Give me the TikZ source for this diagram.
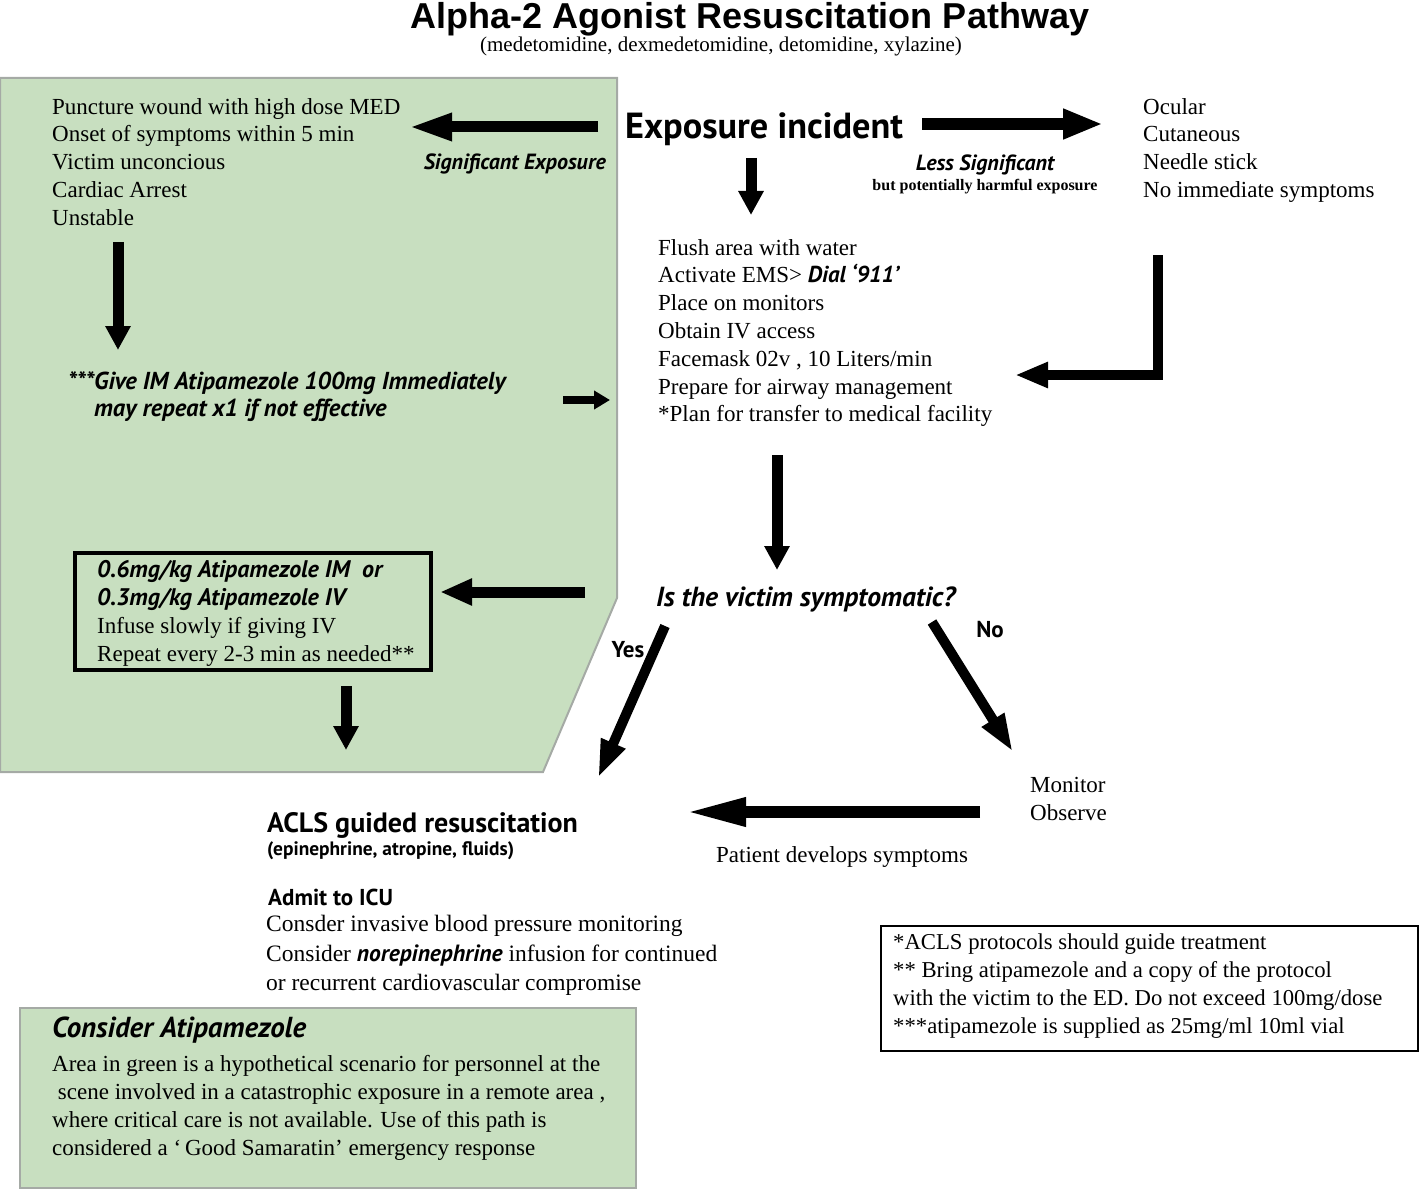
\documentclass[tikz,border=0pt]{standalone}
\usepackage{fontspec}
\setmainfont{Liberation Serif}
\setsansfont{PT Sans}
\newfontfamily\titlefont{Liberation Sans}
\usetikzlibrary{arrows.meta}
\usetikzlibrary{positioning}
\definecolor{greenbg}{RGB}{200,223,192}
\definecolor{edgegray}{RGB}{165,170,165}
\newcommand\fsz[2]{\fontsize{#1}{#2}\selectfont}
\tikzset{
    bodytext/.style = {inner sep=0pt, anchor=north west, align=left, font=\fsz{23}{27.8}},
    headtext/.style = {inner sep=0pt, anchor=west, font=\sffamily\bfseries\fsz{24}{28}},
    cuetext/.style  = {inner sep=0pt, font=\sffamily\bfseries\itshape\fsz{22}{27}},
    bigarrow/.style  = {line width=11pt, -{Triangle[length=44pt,width=25pt]}},
    longarrow/.style = {line width=12pt, -{Triangle[length=40pt,width=28pt]}},
    widearrow/.style = {line width=12pt, -{Triangle[length=62pt,width=26pt]}},
    midarrow/.style  = {line width=11pt, line join=miter, -{Triangle[length=24pt,width=24pt]}},
    bendarrow/.style = {line width=10pt, line join=miter, -{Triangle[length=33pt,width=24pt]}},
    thinarrow/.style = {line width=10pt, -{Triangle[length=38pt,width=24pt]}},
    tinyarrow/.style = {line width=8pt, -{Triangle[length=16pt,width=18pt]}},
}
\begin{document}
\begin{tikzpicture}[x=1pt,y=-1pt]
\useasboundingbox (0,0) rectangle (1420,1190);
% green areas
\fill[greenbg, draw=edgegray, line width=2pt] (0,78) -- (617,78) -- (617,598) -- (543,772) -- (0,772) -- cycle;
\fill[greenbg, draw=edgegray, line width=1.5pt] (20,1008) rectangle (636,1188);
% framed boxes
\draw[line width=4pt] (75,553) rectangle (431,670);
\draw[line width=2.5pt] (881,926) rectangle (1418,1051);
%
\node[inner sep=0pt, font=\titlefont\bfseries\fsz{36}{40}] (title) at (750,19) {Alpha-2 Agonist Resuscitation Pathway};
\node[inner sep=0pt, font=\fsz{21}{24}] (drugs) at (721,46) {(medetomidine, dexmedetomidine, detomidine, xylazine)};
%
\node[headtext, font=\sffamily\bfseries\fsz{36.3}{40}] (expo) at (625,129) {Exposure incident};
\node[cuetext, anchor=east] (sig) at (606,164) {Significant Exposure};
\node[cuetext] (less) at (985,165) {Less Significant};
\node[inner sep=0pt, font=\bfseries\fsz{16}{18}] (harm) at (985,187) {but potentially harmful exposure};
%
\node[bodytext] (severe) at (52,98) {Puncture wound with high dose MED\\Onset of symptoms within 5 min\\Victim unconcious\\Cardiac Arrest\\Unstable};
\node[bodytext] (mild) at (1143,98) {Ocular\\Cutaneous\\Needle stick\\No immediate symptoms};
\node[bodytext] (care) at (658,239) {Flush area with water\\Activate EMS> \textsf{\bfseries\itshape Dial `911'}\\Place on monitors\\Obtain IV access\\Facemask 02v , 10 Liters/min\\Prepare for airway management\\{}*Plan for transfer to medical facility};
\node[cuetext, anchor=north west, align=left, font=\sffamily\bfseries\itshape\fsz{24.5}{27}] (giveim) at (68,371) {***Give IM Atipamezole 100mg Immediately\\\hspace*{26pt}may repeat x1 if not effective};
%
\node[cuetext, anchor=west, font=\sffamily\bfseries\itshape\fsz{27.6}{30}] (quest) at (656,599) {Is the victim symptomatic?};
\node[bodytext, font=\fsz{23}{28.2}] (dose) at (97,560) {\textsf{\bfseries\itshape\fsz{24}{28.2}0.6mg/kg Atipamezole IM\ \ or}\\\textsf{\bfseries\itshape\fsz{24}{28.2}0.3mg/kg Atipamezole IV}\\Infuse slowly if giving IV\\Repeat every 2-3 min as needed**};
\node[inner sep=0pt, font=\sffamily\bfseries\fsz{23}{26}] (yes) at (628,650) {Yes};
\node[inner sep=0pt, font=\sffamily\bfseries\fsz{23}{26}] (no) at (990,630) {No};
\node[bodytext] (watch) at (1030,777) {Monitor\\Observe};
\node[inner sep=0pt, anchor=west, font=\fsz{23}{26}] (develop) at (716,857) {Patient develops symptoms};
%
\node[headtext, font=\sffamily\bfseries\fsz{28}{32}] (acls) at (267,825) {ACLS guided resuscitation};
\node[headtext, font=\sffamily\bfseries\fsz{19.4}{22}] (drugsb) at (267,851) {(epinephrine, atropine, fluids)};
\node[headtext, font=\sffamily\bfseries\fsz{23}{26}] (icu) at (268,897) {Admit to ICU};
\node[bodytext, font=\fsz{23.5}{29.5}] (icucare) at (266,915) {Consder invasive blood pressure monitoring\\Consider \textsf{\bfseries\itshape norepinephrine} infusion for continued\\or recurrent cardiovascular compromise};
%
\node[cuetext, anchor=west, font=\sffamily\bfseries\itshape\fsz{28.9}{32}] (consider) at (52,1030) {Consider Atipamezole};
\node[bodytext, font=\fsz{23}{28}] (remote) at (52,1055) {Area in green is a hypothetical scenario for personnel at the\\\ scene involved in a catastrophic exposure in a remote area ,\\where critical care is not available. Use of this path is\\considered a `\,Good Samaratin' emergency response};
\node[bodytext, font=\fsz{22.7}{27.8}] (notes) at (893,934) {{}*ACLS protocols should guide treatment\\{}** Bring atipamezole and a copy of the protocol\\with the victim to the ED. Do not exceed 100mg/dose\\{}***atipamezole is supplied as 25mg/ml 10ml vial};
%
\coordinate (sigS) at (598,127);   \coordinate (sigE) at (408,127);
\coordinate (lessS) at (922,124);  \coordinate (lessE) at (1103,124);
\coordinate (expoS) at (751,158);  \coordinate (expoE) at (751,215);
\coordinate (mildS) at (1158,255); \coordinate (mildE) at (1015,375);
\coordinate (sevS) at (118,242);   \coordinate (sevE) at (118,350);
\coordinate (imS) at (563,400);    \coordinate (imE) at (610,400);
\coordinate (careS) at (777,455);  \coordinate (careE) at (777,570);
\coordinate (doseS) at (585,592);  \coordinate (doseE) at (440,592);
\coordinate (downS) at (346,686);  \coordinate (downE) at (346,750);
\coordinate (yesS) at (665,626);   \coordinate (yesE) at (598,778);
\coordinate (noS) at (932,622);    \coordinate (noE) at (1013,752);
\coordinate (devS) at (980,812);   \coordinate (devE) at (684,812);
%
\draw[bigarrow] (sigS) -- (sigE);
\draw[longarrow] (lessS) -- (lessE);
\draw[midarrow] (expoS) -- (expoE);
\draw[bendarrow] (mildS) |- (mildE);
\draw[midarrow] (sevS) -- (sevE);
\draw[tinyarrow] (imS) -- (imE);
\draw[midarrow] (careS) -- (careE);
\draw[bigarrow, -{Triangle[length=32pt,width=25pt]}] (doseS) -- (doseE);
\draw[midarrow] (downS) -- (downE);
\draw[thinarrow] (yesS) -- (yesE);
\draw[thinarrow] (noS) -- (noE);
\draw[widearrow] (devS) -- (devE);
\end{tikzpicture}
\end{document}
